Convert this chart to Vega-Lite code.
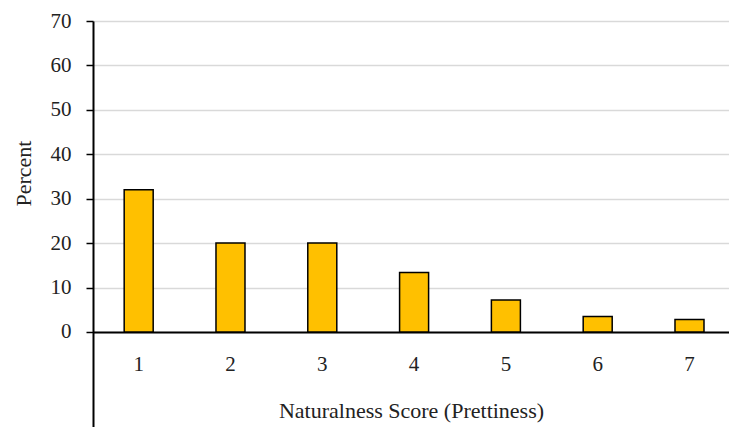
{
  "$schema": "https://vega.github.io/schema/vega-lite/v6.json",
  "autosize": "none",
  "padding": {"left": 93, "top": 21, "right": 0, "bottom": 0},
  "width": 636,
  "height": 406,
  "background": "white",
  "config": {"view": {"stroke": null}},
  "data": {
    "values": [
      {"score": "1", "percent": 32.0},
      {"score": "2", "percent": 20.0},
      {"score": "3", "percent": 20.0},
      {"score": "4", "percent": 13.4},
      {"score": "5", "percent": 7.2},
      {"score": "6", "percent": 3.5},
      {"score": "7", "percent": 2.8}
    ]
  },
  "mark": {"type": "bar", "fill": "#FFC000", "stroke": "black", "strokeWidth": 1.5},
  "encoding": {
    "x": {
      "field": "score",
      "type": "ordinal",
      "scale": {"paddingInner": 0.684, "paddingOuter": 0.306, "align": 0.555},
      "axis": {
        "title": "Naturalness Score (Prettiness)",
        "offset": -95,
        "labelAngle": 0,
        "ticks": false,
        "domainColor": "black",
        "domainWidth": 2,
        "labelFont": "Liberation Serif",
        "labelFontSize": 21,
        "labelColor": "#222222",
        "labelPadding": 21,
        "titleFont": "Liberation Serif",
        "titleFontSize": 22,
        "titleFontWeight": "normal",
        "titleColor": "#222222",
        "titlePadding": 26
      }
    },
    "y": {
      "field": "percent",
      "type": "quantitative",
      "scale": {"domain": [-21.4, 70], "nice": false, "zero": false},
      "axis": {
        "title": "Percent",
        "values": [0, 10, 20, 30, 40, 50, 60, 70],
        "grid": true,
        "gridColor": "#d9d9d9",
        "gridWidth": 1.5,
        "domainColor": "black",
        "domainWidth": 2,
        "tickColor": "black",
        "tickWidth": 1.5,
        "tickSize": 7,
        "labelFont": "Liberation Serif",
        "labelFontSize": 21,
        "labelColor": "#222222",
        "labelPadding": 15,
        "titleFont": "Liberation Serif",
        "titleFontSize": 22,
        "titleFontWeight": "normal",
        "titleColor": "#222222",
        "titleX": -70,
        "titleY": 152,
        "titleAngle": -90,
        "titleAlign": "center",
        "titleBaseline": "middle"
      }
    }
  }
}
